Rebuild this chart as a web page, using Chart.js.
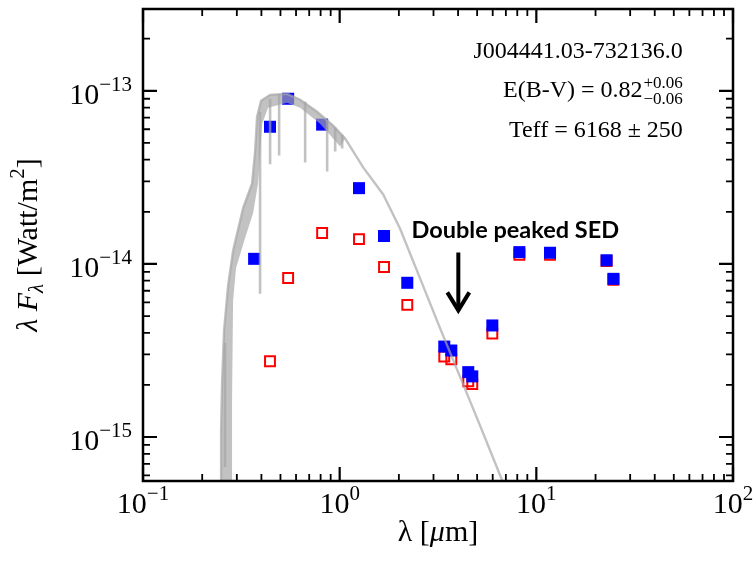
<!DOCTYPE html>
<html lang="en">
<head>
<meta charset="UTF-8">
<title>SED J004441.03-732136.0</title>
<script src="https://cdn.jsdelivr.net/npm/chart.js@4.4.1/dist/chart.umd.min.js"></script>
<style>
  html, body { margin: 0; padding: 0; background: #fff; }
  #wrap { width: 756px; height: 565px; }
</style>
</head>
<body>
<div id="wrap"><canvas id="sedChart" width="756" height="565"></canvas></div>
<script>
// photometry, wavelength in micron, lambda*F_lambda in W/m^2
const dereddenedWave = [0.3673, 0.4423, 0.5470, 0.8143, 1.254, 1.681, 2.207, 3.403, 3.696, 4.507, 4.724, 5.974, 8.199, 11.74, 22.76, 24.66];
const dereddenedFlux = [1.07e-14, 6.2e-14, 9.0e-14, 6.38e-14, 2.74e-14, 1.45e-14, 7.78e-15, 3.33e-15, 3.16e-15, 2.37e-15, 2.24e-15, 4.41e-15, 1.17e-14, 1.16e-14, 1.05e-14, 8.2e-15];

const observedWave = [0.4423, 0.5470, 0.8143, 1.254, 1.681, 2.207, 3.403, 3.696, 4.507, 4.724, 5.974, 8.199, 11.74, 22.76, 24.66];
const observedFlux = [2.74e-15, 8.3e-15, 1.51e-14, 1.39e-14, 9.6e-15, 5.8e-15, 2.92e-15, 2.81e-15, 2.1e-15, 2.02e-15, 3.96e-15, 1.13e-14, 1.13e-14, 1.04e-14, 8.1e-15];

// model atmosphere, upper envelope + Rayleigh-Jeans tail
const modelWave = [0.2495, 0.2495, 0.2523, 0.2583, 0.2708, 0.2871, 0.3228, 0.3587, 0.3715, 0.3803, 0.3985, 0.4428, 0.5404, 0.6295, 0.7682, 0.9266, 1.0666, 1.317, 1.665, 2.032, 2.569, 3.246, 4.105, 5.188, 6.558, 7.819];
const modelFlux = [4.5e-16, 1.10e-15, 2.04e-15, 4.12e-15, 7.48e-15, 1.19e-14, 2.10e-14, 2.92e-14, 4.46e-14, 7.10e-14, 8.77e-14, 9.48e-14, 9.61e-14, 8.88e-14, 7.57e-14, 6.30e-14, 5.30e-14, 3.61e-14, 2.52e-14, 1.59e-14, 8.2e-15, 4.23e-15, 2.21e-15, 1.156e-15, 5.97e-16, 3.56e-16];

// line-blanketed part of the model (outline of the dense band)
const bandWave = [0.2495, 0.2495, 0.2523, 0.2583, 0.2708, 0.2871, 0.3228, 0.3587, 0.3715, 0.3803, 0.3985, 0.4428, 0.5404, 0.6295, 0.7682, 0.9266, 1.0666, 1.0058, 0.7960, 0.6295, 0.5404, 0.4325, 0.4036, 0.3847, 0.3629, 0.3304, 0.2973, 0.2871, 0.2837, 0.2837];
const bandFlux = [4.5e-16, 1.10e-15, 2.04e-15, 4.12e-15, 7.48e-15, 1.19e-14, 2.10e-14, 2.92e-14, 4.46e-14, 7.10e-14, 8.77e-14, 9.48e-14, 9.61e-14, 8.88e-14, 7.57e-14, 6.30e-14, 5.30e-14, 4.77e-14, 6.46e-14, 7.98e-14, 8.53e-14, 7.98e-14, 6.46e-14, 2.92e-14, 1.96e-14, 1.41e-14, 9.48e-15, 6.12e-15, 1.63e-15, 4.5e-16];

// strong absorption lines in the model
const lineWave = [0.2613, 0.3938, 0.4428, 0.4922, 0.6675, 0.8638, 0.9487, 1.0297];
const lineTop = [3.5e-15, 7.57e-14, 9.0e-14, 9.6e-14, 8.65e-14, 6.8e-14, 6.13e-14, 5.58e-14];
const lineBottom = [6.7e-16, 6.73e-15, 3.76e-14, 4.23e-14, 3.86e-14, 3.42e-14, 4.46e-14, 4.65e-14];

// axes
const xMin = 0.1, xMax = 100;
const yMin = 5.57e-16, yMax = 2.97e-13;
const xTickValues = [0.1, 1, 10, 100];
const xTickExps = ['\u22121', '0', '1', '2'];
const yTickValues = [1e-15, 1e-14, 1e-13];
const yTickExps = ['\u221215', '\u221214', '\u221213'];

// annotation
const noteText = 'Double peaked SED';
const noteWave = 7.819, noteFlux = 1.42e-14;
const arrowWave = 4.012, arrowFrom = 1.164e-14, arrowTo = 5.25e-15;

const SERIF = "'Liberation Serif', 'Times New Roman', serif";
const GRAY = 'rgba(165,165,165,0.68)';

const toPts = (xs, ys) => xs.map((x, i) => ({x: x, y: ys[i]}));

const lineSegs = [];
lineWave.forEach((w, i) => {
  lineSegs.push({x: w, y: lineTop[i]}, {x: w, y: lineBottom[i]}, {x: w, y: null});
});

function drawPow(ctx, x, y, exp, align, big, small, rise) {
  ctx.font = big + 'px ' + SERIF;
  const wb = ctx.measureText('10').width;
  ctx.font = small + 'px ' + SERIF;
  const we = ctx.measureText(exp).width;
  const x0 = align === 'center' ? x - (wb + we) / 2 : x - wb - we;
  ctx.textAlign = 'left';
  ctx.textBaseline = 'alphabetic';
  ctx.font = big + 'px ' + SERIF;
  ctx.fillText('10', x0, y);
  ctx.font = small + 'px ' + SERIF;
  ctx.fillText(exp, x0 + wb, y - rise);
}

// a run is a list of [text, font, dy] pieces drawn left to right
function runWidth(ctx, pieces) {
  let w = 0;
  pieces.forEach(p => { ctx.font = p[1]; w += ctx.measureText(p[0]).width; });
  return w;
}
function drawRun(ctx, pieces, x, y) {
  let cx = x;
  pieces.forEach(p => {
    ctx.font = p[1];
    ctx.fillText(p[0], cx, y + p[2]);
    cx += ctx.measureText(p[0]).width;
  });
}

const framePlugin = {
  id: 'frame',
  afterDatasetsDraw(chart) {
    const {ctx, chartArea: a, scales: {x, y}} = chart;
    ctx.save();
    ctx.strokeStyle = '#000';
    ctx.fillStyle = '#000';

    // inward ticks on all four sides
    const major = 14, minor = 7;
    for (let e = -1; e <= 2; e++) {
      for (let k = 1; k <= 9; k++) {
        const v = k * Math.pow(10, e);
        if (v < xMin * 0.999 || v > xMax * 1.001) continue;
        const px = x.getPixelForValue(v);
        const len = k === 1 ? major : minor;
        ctx.lineWidth = k === 1 ? 2.2 : 1.8;
        ctx.beginPath();
        ctx.moveTo(px, a.bottom); ctx.lineTo(px, a.bottom - len);
        ctx.moveTo(px, a.top); ctx.lineTo(px, a.top + len);
        ctx.stroke();
      }
    }
    for (let e = -16; e <= -13; e++) {
      for (let k = 1; k <= 9; k++) {
        const v = k * Math.pow(10, e);
        if (v < yMin || v > yMax) continue;
        const py = y.getPixelForValue(v);
        const len = k === 1 ? major : minor;
        ctx.lineWidth = k === 1 ? 2.2 : 1.8;
        ctx.beginPath();
        ctx.moveTo(a.left, py); ctx.lineTo(a.left + len, py);
        ctx.moveTo(a.right, py); ctx.lineTo(a.right - len, py);
        ctx.stroke();
      }
    }

    ctx.lineWidth = 2.5;
    ctx.strokeRect(a.left, a.top, a.right - a.left, a.bottom - a.top);

    // tick labels
    xTickValues.forEach((v, i) => {
      drawPow(ctx, x.getPixelForValue(v), 513, xTickExps[i], 'center', 30, 21, 13);
    });
    yTickValues.forEach((v, i) => {
      drawPow(ctx, 132, y.getPixelForValue(v) + 13, yTickExps[i], 'right', 30, 21, 13);
    });

    // axis titles
    const f = '30px ' + SERIF, fi = 'italic 30px ' + SERIF;
    const fs = '21px ' + SERIF, fsi = 'italic 21px ' + SERIF;
    ctx.textAlign = 'left';
    ctx.textBaseline = 'alphabetic';
    const xt = [['\u03bb [', f, 0], ['\u03bc', fi, 0], ['m]', f, 0]];
    drawRun(ctx, xt, (a.left + a.right) / 2 - runWidth(ctx, xt) / 2, 541);

    const yt = [['\u03bb ', fi, 0], ['F', fi, 0], ['\u03bb', fsi, 6], [' [Watt/m', f, 0], ['2', fs, -13], [']', f, 0]];
    ctx.save();
    ctx.translate(37, (a.top + a.bottom) / 2);
    ctx.rotate(-Math.PI / 2);
    drawRun(ctx, yt, -runWidth(ctx, yt) / 2, 0);
    ctx.restore();

    // object info, top right
    const rx = a.left + 0.915 * (a.right - a.left);
    ctx.textAlign = 'right';
    ctx.font = '24px ' + SERIF;
    ctx.fillText('J004441.03-732136.0', rx, 58);
    ctx.font = '17px ' + SERIF;
    const supW = Math.max(ctx.measureText('+0.06').width, ctx.measureText('\u22120.06').width);
    ctx.textAlign = 'left';
    ctx.fillText('+0.06', rx - supW, 88);
    ctx.fillText('\u22120.06', rx - supW, 104);
    ctx.textAlign = 'right';
    ctx.font = '24px ' + SERIF;
    ctx.fillText('E(B-V) = 0.82', rx - supW - 1, 97);
    ctx.fillText('Teff = 6168 \u00b1 250', rx, 137);

    // annotation and arrow
    ctx.textAlign = 'center';
    ctx.font = "bold 23.5px Lato, 'Open Sans', sans-serif";
    ctx.fillText(noteText, x.getPixelForValue(noteWave), y.getPixelForValue(noteFlux));

    const ax = x.getPixelForValue(arrowWave);
    const ay0 = y.getPixelForValue(arrowFrom), ay1 = y.getPixelForValue(arrowTo);
    ctx.lineWidth = 4;
    ctx.lineCap = 'butt';
    ctx.lineJoin = 'miter';
    ctx.beginPath();
    ctx.moveTo(ax, ay0); ctx.lineTo(ax, ay1 - 2);
    ctx.stroke();
    ctx.beginPath();
    ctx.moveTo(ax - 11, ay1 - 20); ctx.lineTo(ax, ay1 - 2); ctx.lineTo(ax + 11, ay1 - 20);
    ctx.stroke();

    ctx.restore();
  }
};

const ctx = document.getElementById('sedChart').getContext('2d');
new Chart(ctx, {
  type: 'scatter',
  data: {
    datasets: [
      {
        label: 'model',
        data: toPts(modelWave, modelFlux),
        showLine: true,
        borderColor: GRAY,
        borderWidth: 2.4,
        pointRadius: 0,
        clip: 0,
        order: 0
      },
      {
        label: 'model band',
        data: toPts(bandWave, bandFlux),
        showLine: true,
        fill: 'shape',
        backgroundColor: GRAY,
        borderColor: 'rgba(0,0,0,0)',
        borderWidth: 1,
        pointRadius: 0,
        clip: 0,
        order: 0
      },
      {
        label: 'model lines',
        data: lineSegs,
        showLine: true,
        spanGaps: false,
        borderColor: GRAY,
        borderWidth: 2.6,
        pointRadius: 0,
        clip: 0,
        order: 0
      },
      {
        label: 'dereddened',
        data: toPts(dereddenedWave, dereddenedFlux),
        pointStyle: 'rect',
        pointRadius: 8.5,
        backgroundColor: '#0000ff',
        borderColor: '#0000ff',
        borderWidth: 0,
        order: 1
      },
      {
        label: 'observed',
        data: toPts(observedWave, observedFlux),
        pointStyle: 'rect',
        pointRadius: 7,
        backgroundColor: 'rgba(0,0,0,0)',
        borderColor: '#ff0000',
        borderWidth: 2,
        order: 2
      }
    ]
  },
  options: {
    responsive: false,
    animation: false,
    devicePixelRatio: 1,
    layout: { padding: { left: 143, right: 23, top: 8, bottom: 84 } },
    plugins: { legend: { display: false }, tooltip: { enabled: false } },
    scales: {
      x: { type: 'logarithmic', min: xMin, max: xMax, display: false },
      y: { type: 'logarithmic', min: yMin, max: yMax, display: false }
    }
  },
  plugins: [framePlugin]
});
</script>
</body>
</html>
